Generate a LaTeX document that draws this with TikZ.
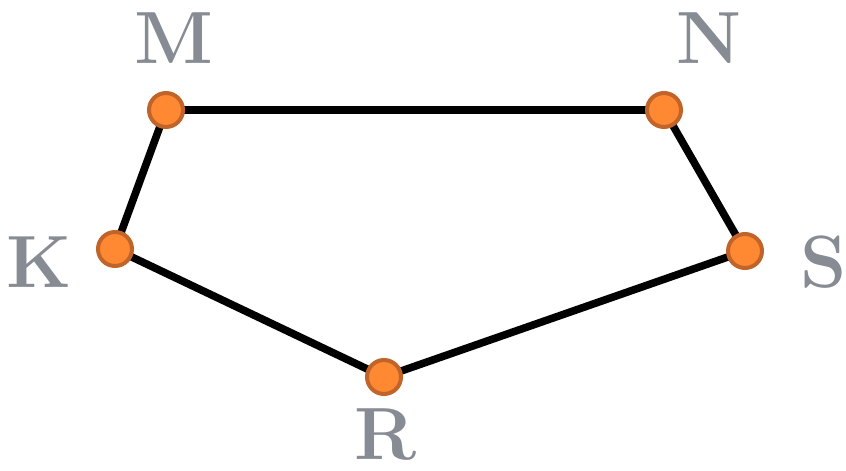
\documentclass[tikz,border=0pt]{standalone}
\begin{document}
\begin{tikzpicture}[x=0.5pt,y=-0.5pt,
  vert/.style={circle,fill={rgb,255:red,255;green,136;blue,51},draw={rgb,255:red,192;green,100;blue,42},line width=2pt,minimum size=17pt,inner sep=0pt},
  lbl/.style={text={rgb,255:red,135;green,139;blue,147},font=\fontsize{37}{40}\selectfont\bfseries,anchor=base,inner sep=0pt},
  edge/.style={line width=3.8pt,black}]
\useasboundingbox (0,0) rectangle (846,471);
\coordinate (M) at (166,110);
\coordinate (N) at (664,110);
\coordinate (S) at (745,251);
\coordinate (R) at (384,377);
\coordinate (K) at (115,249);
\draw[edge] (M) -- (N) -- (S) -- (R) -- (K) -- cycle;
\node[vert] (vM) at (M) {};
\node[vert] (vN) at (N) {};
\node[vert] (vS) at (S) {};
\node[vert] (vR) at (R) {};
\node[vert] (vK) at (K) {};
\node[lbl] (lM) at (174,63) {M};
\node[lbl] (lN) at (709,63) {N};
\node[lbl] (lK) at (39,287) {K};
\node[lbl] (lS) at (824,287) {S};
\node[lbl] (lR) at (386,459) {R};
\end{tikzpicture}
\end{document}
